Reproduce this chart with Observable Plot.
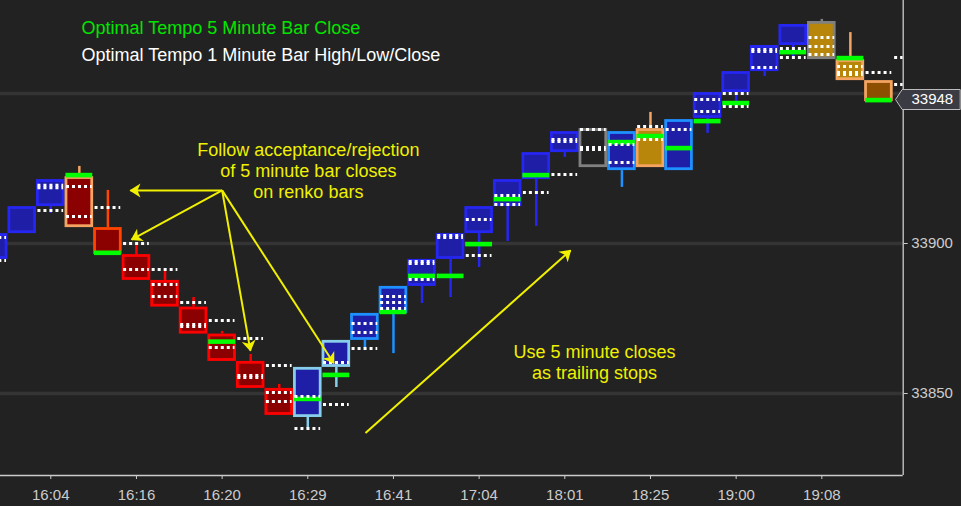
<!DOCTYPE html>
<html>
<head>
<meta charset="utf-8">
<script src="https://cdn.jsdelivr.net/npm/d3@7"></script>
<script src="https://cdn.jsdelivr.net/npm/@observablehq/plot@0.6"></script>
<style>
  html, body { margin: 0; padding: 0; background: #222222; }
  #chart svg { display: block; }
</style>
</head>
<body>
<div id="chart"></div>
<script>
// ---------- DATA ----------
// Renko columns, starting at column index -1 (partially visible at the left edge)
const firstCol = -1;
const boxTop = [33903.3, 33912.3, 33921.3, 33922.3, 33905.3, 33896.3, 33887.7, 33878.8, 33869.8, 33860.7,
  33851.7, 33858.7, 33867.7, 33876.7, 33885.7, 33894.7, 33903.3, 33912.3, 33921.3, 33930.3,
  33937.3, 33938.3, 33937.3, 33938.3, 33941.3, 33950.3, 33957.3, 33966.0, 33973.0, 33974.0,
  33961.3, 33954.3];
const boxBottom = [33894.7, 33903.3, 33912.3, 33905.3, 33896.3, 33887.7, 33878.8, 33869.8, 33860.7, 33851.7,
  33842.7, 33842.0, 33858.7, 33867.7, 33876.7, 33885.7, 33894.7, 33903.3, 33912.3, 33921.3,
  33930.3, 33925.3, 33924.3, 33925.3, 33924.3, 33941.7, 33950.3, 33957.3, 33966.0, 33961.3,
  33954.3, 33947.3];
const fillKind = ["up", "up", "up", "down", "down", "down", "down", "down", "down", "down",
  "down", "up", "up", "up", "up", "up", "up", "up", "up", "up",
  "up", "empty", "up", "gold", "up", "up", "up", "up", "up", "gold",
  "gold", "brown"];
const outlineKind = ["up", "up", "up", "sandy", "orangered", "down", "down", "down", "down", "down",
  "down", "sky", "sky", "dodger", "dodger", "up", "up", "up", "up", "up",
  "up", "grey", "dodger", "sandy", "dodger", "up", "up", "up", "up", "grey",
  "sandy", "sandy"];
const wickHigh = [null, null, null, 33925.7, 33917.7, 33899.3, 33890.7, 33882.0, 33870.7, 33863.0,
  33853.0, null, null, null, null, null, null, null, null, null,
  null, null, null, 33943.7, null, null, null, null, null, 33974.7,
  33970.3, null];
const wickLow = [null, null, 33910.0, null, null, null, null, null, null, null,
  null, 33838.3, 33852.0, 33865.0, 33863.3, 33880.0, 33882.0, 33892.0, 33900.7, 33905.7,
  33928.7, null, 33918.7, null, null, 33936.7, 33945.0, 33955.7, 33962.0, null,
  null, null];
// Optimal Tempo 5 minute bar close
const close5 = [null, null, null, 33922.8, 33896.9, null, null, null, 33867.3, null,
  null, 33848.2, 33856.2, null, 33877.2, 33889.2, 33889.2, 33899.8, 33914.8, 33922.8,
  null, null, 33933.8, 33935.8, 33931.8, 33940.8, 33946.8, null, 33963.8, null,
  33961.8, 33947.8];
// Optimal Tempo 1 minute bar high/low/close levels per column (columns -1 .. 31)
const oneMin = [
  [33902.0, 33894.3], [], [33919.4, 33918.6, 33911.0], [33919.0, 33909.0], [33912.0],
  [33900.0, 33891.3], [33891.3, 33886.3, 33882.3], [33880.3, 33873.0, 33872.3], [33874.3, 33865.3],
  [33868.3, 33856.0, 33855.3], [33859.3, 33850.3, 33847.3], [33849.0, 33838.3], [33860.3, 33846.3],
  [33873.3, 33870.3, 33865.0], [33882.3, 33880.3, 33878.3], [33894.0, 33893.3, 33888.0],
  [33902.7, 33902.0], [33908.0, 33896.0], [33916.0, 33913.0], [33917.0],
  [33934.7, 33934.0, 33923.0], [33938.0, 33932.0, 33931.3], [33933.0, 33927.0], [33939.0, 33934.7],
  [33938.0], [33948.0, 33944.0], [33950.0, 33945.7], [33964.7, 33964.0, 33958.7],
  [33965.0, 33962.0], [33968.7, 33965.7, 33963.0], [33959.0, 33957.0, 33956.3], [33957.0],
  [33962.0, 33953.0]
];
const tickCols = [1, 4, 7, 10, 13, 16, 19, 22, 25, 28];
const tickLabels = ["16:04", "16:16", "16:20", "16:29", "16:41", "17:04", "18:01", "18:25", "19:00", "19:08"];
const gridLevels = [33850, 33900, 33950];
const priceTicks = [33850, 33900];
const lastPrice = 33948;
const titleLines = ["Optimal Tempo 5 Minute Bar Close", "Optimal Tempo 1 Minute Bar High/Low/Close"];
// annotations (column index, price)
const noteLines = ["Follow acceptance/rejection", "of 5 minute bar closes", "on renko bars", "Use 5 minute closes", "as trailing stops"];
const noteCol = [10.02, 10.02, 10.02, 20.04, 20.04];
const notePrice = [33929.3, 33922.3, 33915.3, 33861.7, 33855.0];
const arrowFromCol = [7.0, 7.0, 7.0, 7.0, 12.02];
const arrowFromPrice = [33917.7, 33917.7, 33917.7, 33917.7, 33836.8];
const arrowToCol = [3.79, 3.83, 7.99, 10.91, 19.2];
const arrowToPrice = [33917.7, 33901.3, 33864.3, 33860.1, 33897.7];

// ---------- STYLE ----------
const fillColor = {up: "#1e1ea6", down: "#8b0000", empty: "#222222", gold: "#b8860b", brown: "#8c4e00"};
const outlineColor = {up: "#2626f2", down: "#ff0000", sandy: "#f4a460", orangered: "#ff4500",
  sky: "#87ceeb", dodger: "#1e90ff", grey: "#808080"};
const yellow = "#f0f000";
const xDomain = [-0.761, 30.85];
const yDomain = [33822.67, 33981];

// ---------- BUILD ----------
const bricks = boxTop.map((t, k) => ({
  col: firstCol + k, top: t, bottom: boxBottom[k],
  fill: fillColor[fillKind[k]], stroke: outlineColor[outlineKind[k]],
  hi: wickHigh[k], lo: wickLow[k], close: close5[k]
}));
const dots = oneMin.flatMap((levels, k) => levels.map(v => ({col: firstCol + k, v})));
const notes = noteLines.map((t, k) => ({t, x: noteCol[k], y: notePrice[k]}));
const arrows = arrowFromCol.map((x, k) => ({x1: x, y1: arrowFromPrice[k], x2: arrowToCol[k], y2: arrowToPrice[k]}));
const labelOf = new Map(tickCols.map((c, k) => [c, tickLabels[k]]));

const priceTag = {
  draw(ctx) {
    ctx.moveTo(-7.7, 0); ctx.lineTo(-1, -10); ctx.lineTo(57, -10);
    ctx.lineTo(57, 10); ctx.lineTo(-1, 10); ctx.closePath();
  }
};

const chart = Plot.plot({
  width: 961, height: 506,
  marginLeft: 0, marginRight: 58.3, marginTop: 0, marginBottom: 31,
  style: {background: "#222222", color: "#cccccc", fontFamily: "'Liberation Sans', Arial, sans-serif", fontSize: "15px"},
  x: {domain: xDomain},
  y: {domain: yDomain},
  marks: [
    Plot.ruleY(gridLevels, {stroke: "#343434", strokeWidth: 3.5}),
    Plot.ruleX(bricks.filter(d => d.hi != null), {x: "col", y1: "top", y2: "hi", stroke: "stroke", strokeWidth: 2.5}),
    Plot.ruleX(bricks.filter(d => d.lo != null), {x: "col", y1: "bottom", y2: "lo", stroke: "stroke", strokeWidth: 2.5}),
    Plot.rect(bricks, {x1: d => d.col - 0.5, x2: d => d.col + 0.5, y1: "bottom", y2: "top",
      fill: "fill", stroke: "stroke", strokeWidth: 2.8, inset: 1.4, clip: true}),
    Plot.ruleY(bricks.filter(d => d.close != null), {y: "close", x1: d => d.col - 0.47, x2: d => d.col + 0.47,
      stroke: "#00ff00", strokeWidth: 4.6}),
    Plot.ruleY(dots, {y: "v", x1: d => d.col - 0.45, x2: d => d.col + 0.45,
      stroke: "#ffffff", strokeWidth: 3, strokeDasharray: "3,3", clip: true}),
    Plot.ruleY([yDomain[0]], {stroke: "#cccccc", strokeWidth: 1.3}),
    Plot.ruleX([xDomain[1]], {stroke: "#cccccc", strokeWidth: 1.3}),
    Plot.axisX({ticks: tickCols, tickFormat: d => labelOf.get(d), tickSize: 4, tickPadding: 10,
      stroke: "#cccccc", fill: "#cccccc", label: null, fontSize: 15}),
    Plot.axisY({anchor: "right", ticks: priceTicks, tickFormat: d => String(d), tickSize: 4, tickPadding: 4,
      stroke: "#cccccc", fill: "#cccccc", label: null, fontSize: 15}),
    Plot.text([titleLines[0]], {frameAnchor: "top-left", dx: 81, dy: 33, lineAnchor: "bottom",
      textAnchor: "start", fontSize: 18, fill: "#00e600"}),
    Plot.text([titleLines[1]], {frameAnchor: "top-left", dx: 81, dy: 60, lineAnchor: "bottom",
      textAnchor: "start", fontSize: 18, fill: "#ffffff"}),
    Plot.text(notes, {x: "x", y: "y", text: "t", lineAnchor: "bottom", textAnchor: "middle",
      fontSize: 18, fill: yellow}),
    Plot.link(arrows, {x1: "x1", y1: "y1", x2: "x2", y2: "y2", stroke: yellow, strokeWidth: 2, markerEnd: "arrow"}),
    Plot.dot([lastPrice], {x: () => xDomain[1], y: d => d, symbol: priceTag, fill: "#3b3c43", stroke: "#bdbdbd", strokeWidth: 1}),
    Plot.text([lastPrice], {x: () => xDomain[1], y: d => d, text: d => String(d), dx: 8.3,
      textAnchor: "start", fill: "#ffffff", fontSize: 15})
  ]
});

// filled, notched arrowheads like the reference
d3.select(chart).selectAll("marker").each(function () {
  const m = d3.select(this);
  m.attr("viewBox", "-11 -7.5 12 15").attr("markerWidth", 12).attr("markerHeight", 15)
    .attr("markerUnits", "userSpaceOnUse").attr("refX", 0).attr("refY", 0)
    .attr("fill", yellow).attr("stroke", "none");
  m.selectAll("*").remove();
  m.append("path").attr("d", "M1,0 L-10,-7 L-7,0 L-10,7 Z");
});

document.getElementById("chart").appendChild(chart);
</script>
</body>
</html>
